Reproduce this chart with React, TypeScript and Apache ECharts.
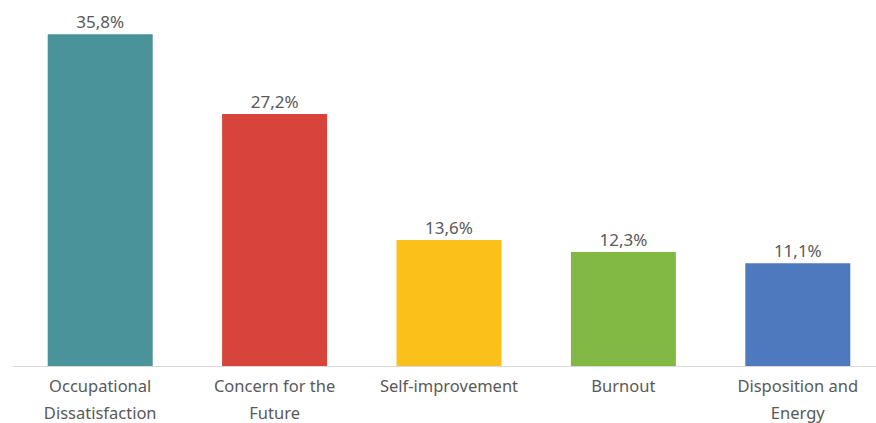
import React, { useEffect, useRef } from "react";
import * as echarts from "echarts";

const categories = ["Occupational\nDissatisfaction", "Concern for the\nFuture", "Self-improvement", "Burnout", "Disposition and\nEnergy"];
const values = [35.8, 27.2, 13.6, 12.3, 11.1];
const colors = ["#4a939b", "#d8433c", "#fbc01a", "#81b944", "#4f79bf"];

export default function App() {
  const ref = useRef<HTMLDivElement>(null);
  useEffect(() => {
    const chart = echarts.init(ref.current!, null, { renderer: "svg" });
    chart.setOption({
      animation: false,
      grid: { left: 13, width: 872, top: 0, bottom: 57, containLabel: false, outerBoundsMode: "none" },
      xAxis: {
        type: "category",
        data: categories,
        axisLine: { lineStyle: { color: "#d9d9d9", width: 1 } },
        axisTick: { show: false },
        axisLabel: { color: "#595959", fontFamily: "Noto Sans", fontSize: 16.5, lineHeight: 27, margin: 6, interval: 0 },
      },
      yAxis: { type: "value", min: 0, max: 39.5, show: false, splitLine: { show: false } },
      series: [
        {
          type: "bar",
          barWidth: 105,
          data: values.map((v, i) => ({ value: v, itemStyle: { color: colors[i] } })),
          label: {
            show: true,
            position: "top",
            distance: 4,
            color: "#595959",
            fontFamily: "Noto Sans",
            fontSize: 17,
            formatter: (p: any) => p.value.toFixed(1).replace(".", ",") + "%",
          },
        },
      ],
    });
    return () => chart.dispose();
  }, []);
  return (
    <div style={{ position: "fixed", left: 0, top: 0, width: 876, height: 423, overflow: "hidden", background: "#fff" }}>
      <div ref={ref} style={{ width: 900, height: 423 }} />
    </div>
  );
}
